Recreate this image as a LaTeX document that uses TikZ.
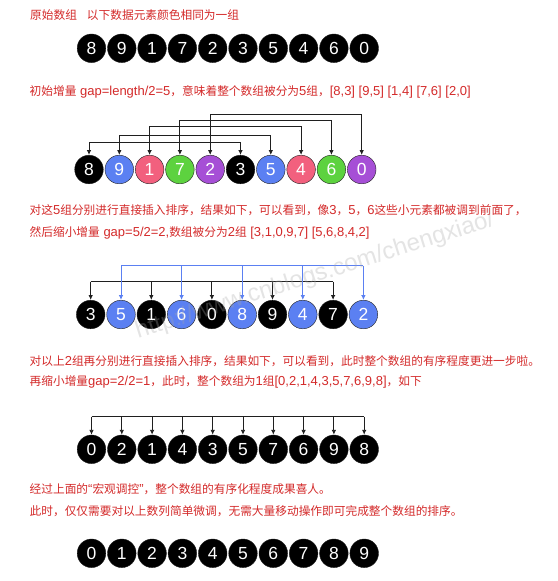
\documentclass[tikz,border=0pt]{standalone}
\usepackage{fontspec}
\newfontfamily\cjk{Noto Sans CJK SC}
\newfontfamily\num{Liberation Sans}
\newcommand\lat[1]{{\num\fontsize{13}{14}\selectfont #1}}
\usetikzlibrary{chains,positioning,arrows.meta}
\definecolor{txt}{HTML}{D42A2A}
\definecolor{bl}{HTML}{5B80F2}
\definecolor{pk}{HTML}{F2607E}
\definecolor{gr}{HTML}{5DD23F}
\definecolor{pu}{HTML}{A64FD6}
\definecolor{edge}{gray}{0.12}

\begin{document}
\begin{tikzpicture}[
	x=1pt,y=-1pt,
	ball/.style={
		draw=edge,
		fill=black,
		circle,
		minimum size=28.6pt,
		inner sep=0pt,
		text=white,
		font=\num\fontsize{17.5}{18}\selectfont
	},
	note/.style={
		anchor=west,
		inner sep=0pt,
		text=txt,
		font=\cjk\fontsize{11.7}{14}\selectfont
	},
	link/.style={draw=edge,line width=0.9pt},
	tip/.style={-{Latex[length=5pt,width=4.6pt]}},
	node distance=1.3pt
	]
	\useasboundingbox[fill=white] (0,0) rectangle (557,581);

	% original array
	\node[note] (t1) at (30,15) {原始数组\hspace{10pt}以下数据元素颜色相同为一组};
	\begin{scope}[start chain=1]
	\node[ball,on chain=1] at (91.5,48.3) (a1) {8};
	\foreach \v [count=\i from 2] in {9,1,7,2,3,5,4,6,0}
		\node[ball,on chain=1] (a\i) {\v};
	\end{scope}

	% gap 5
	\node[note] (t2) at (29.5,92) {初始增量\lat{ gap=length/2=5}，意味着整个数组被分为\lat{5}组，\lat{[8,3] [9,5] [1,4] [7,6] [2,0]}};
	\begin{scope}[start chain=2]
	\node[ball,on chain=2] at (89,169.5) (b1) {8};
	\foreach \v/\c [count=\i from 2] in {9/bl,1/pk,7/gr,2/pu,3/black,5/bl,4/pk,6/gr,0/pu}
		\node[ball,fill=\c,on chain=2] (b\i) {\v};
	\end{scope}
	\foreach \i/\h in {1/142.3,2/135,3/126.7,4/120.7,5/114}{
		\pgfmathtruncatemacro{\j}{\i+5}
		\draw[link,{Latex[length=5pt,width=4.6pt]}-{Latex[length=5pt,width=4.6pt]}] (b\i.north) -- (b\i.north |- 0,\h) -- (b\j.north |- 0,\h) -- (b\j.north);
	}

	% gap 2
	\node[note] (t3) at (29.5,210) {对这\lat{5}组分别进行直接插入排序，结果如下，可以看到，像\lat{3}，\lat{5}，\lat{6}这些小元素都被调到前面了，};
	\node[note] (t4) at (29.5,232.7) {然后缩小增量\lat{ gap=5/2=2,}数组被分为\lat{2}组\lat{ [3,1,0,9,7] [5,6,8,4,2]}};
	\begin{scope}[start chain=3]
	\node[ball,on chain=3] at (90.7,314.5) (c1) {3};
	\foreach \v/\c [count=\i from 2] in {5/bl,1/black,6/bl,0/black,8/bl,9/black,4/bl,7/black,2/bl}
		\node[ball,fill=\c,on chain=3] (c\i) {\v};
	\end{scope}
	\draw[link] (c1.north |- 0,281.7) -- (c9.north |- 0,281.7);
	\foreach \i in {1,3,5,7,9}
		\draw[link,tip] (c\i.north |- 0,281.7) -- (c\i.north);
	\draw[link,draw=bl] (c2.north |- 0,265.7) -- (c10.north |- 0,265.7);
	\foreach \i in {2,4,6,8,10}
		\draw[link,draw=bl,tip] (c\i.north |- 0,265.7) -- (c\i.north);

	% gap 1
	\node[note] (t5) at (29.5,360.7) {对以上\lat{2}组再分别进行直接插入排序，结果如下，可以看到，此时整个数组的有序程度更进一步啦。};
	\node[note] (t6) at (29.5,381.7) {再缩小增量\lat{gap=2/2=1}，此时，整个数组为\lat{1}组\lat{[0,2,1,4,3,5,7,6,9,8]}，如下};
	\begin{scope}[start chain=4]
	\node[ball,on chain=4] at (91.5,449.3) (d1) {0};
	\foreach \v [count=\i from 2] in {2,1,4,3,5,7,6,9,8}
		\node[ball,on chain=4] (d\i) {\v};
	\end{scope}
	\draw[link] (d1.north |- 0,416.7) -- (d10.north |- 0,416.7);
	\foreach \i in {1,...,10}
		\draw[link,tip] (d\i.north |- 0,416.7) -- (d\i.north);

	% sorted
	\node[note] (t7) at (29.5,489.3) {经过上面的\lat{“}宏观调控\lat{”}，整个数组的有序化程度成果喜人。};
	\node[note] (t8) at (29.5,510.7) {此时，仅仅需要对以上数列简单微调，无需大量移动操作即可完成整个数组的排序。};
	\begin{scope}[start chain=5]
	\node[ball,on chain=5] at (91.5,553.3) (e1) {0};
	\foreach \v [count=\i from 2] in {1,...,9}
		\node[ball,on chain=5] (e\i) {\v};
	\end{scope}

	\node[rotate=17.5,text=gray!70,opacity=0.3,font=\num\fontsize{24}{24}\selectfont] (mark) at (315,276) {http://www.cnblogs.com/chengxiao/};
\end{tikzpicture}
\end{document}
